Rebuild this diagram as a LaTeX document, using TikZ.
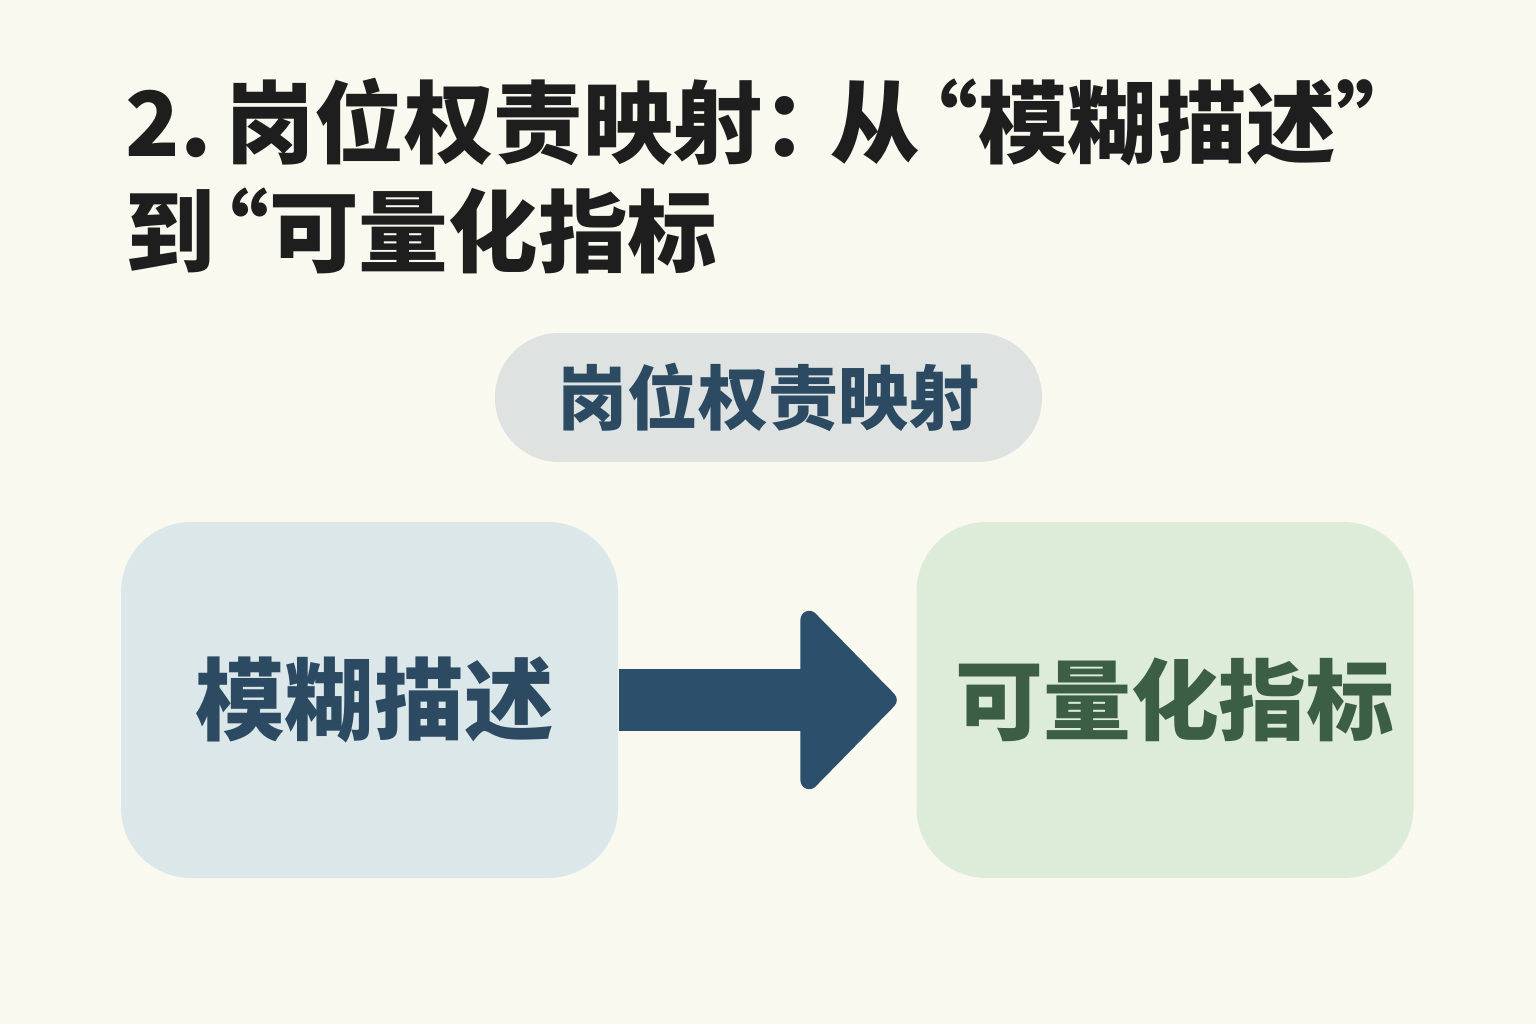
\documentclass[tikz,border=0pt]{standalone}
\usepackage{fontspec}
\newfontfamily\cjk{Noto Sans CJK SC}
\usetikzlibrary{arrows.meta}

\definecolor{bgcol}{HTML}{FAF9F0}
\definecolor{titlecol}{HTML}{1E1E1E}
\definecolor{pillcol}{HTML}{DEE2E1}
\definecolor{vaguecol}{HTML}{DCE7EA}
\definecolor{quantcol}{HTML}{DDEBD9}
\definecolor{bluetext}{HTML}{2C4A62}
\definecolor{greentext}{HTML}{3B5E45}
\definecolor{arrowcol}{HTML}{2C4F6C}

\begin{document}
\begin{tikzpicture}[
	titletext/.style={anchor=base west, inner sep=0pt, text=titlecol, font=\cjk\bfseries\fontsize{25.5}{30}\selectfont},
	pill/.style={rectangle, rounded corners=0.64cm, fill=pillcol, minimum width=5.47cm, minimum height=1.29cm, inner sep=0pt, text=bluetext, font=\cjk\bfseries\fontsize{20}{24}\selectfont},
	box/.style={rectangle, rounded corners=0.7cm, minimum width=4.97cm, minimum height=3.56cm, inner sep=0pt, font=\cjk\bfseries\fontsize{25.5}{30}\selectfont}
]
	\fill[bgcol] (0,0) rectangle (15.36,10.24);
	\useasboundingbox (0,0) rectangle (15.36,10.24);
	
	% title
	\node[titletext] (title1) at (1.25,8.67) {2.\kern0.15em 岗位权责映射：\kern-0.25em 从\kern-0.35em“模糊描述”};
	\node[titletext] (title2) at (1.25,7.58) {到\kern-0.4em“可量化指标};
	
	\node[pill] (mapping) at (7.685,6.265) {岗位权责映射};
	
	\node[box, fill=vaguecol, text=bluetext] (vague) at (3.695,3.24) {\hspace{0.1cm}模糊描述};
	\node[box, fill=quantcol, text=greentext, font=\cjk\bfseries\fontsize{25}{30}\selectfont] (quant) at (11.65,3.24) {\hspace{0.2cm}可量化指标};
	
	\draw[arrowcol, line width=0.62cm, shorten >=0.19cm, -{Triangle[length=1.0cm, width=2.0cm, line width=5pt, round]}] (vague.east) -- (quant.west);
\end{tikzpicture}
\end{document}
